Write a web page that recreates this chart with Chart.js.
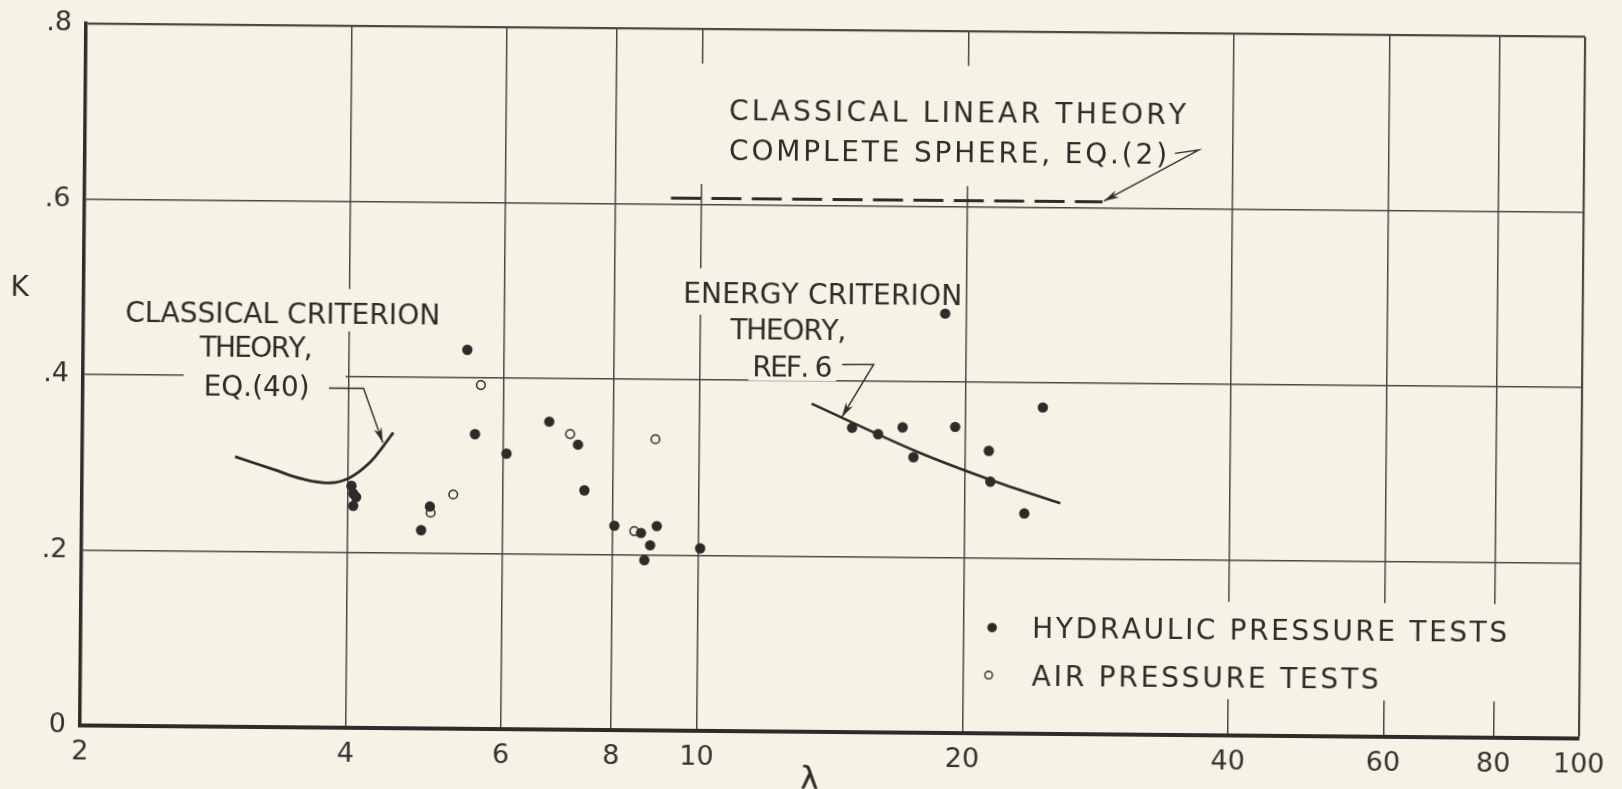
<!DOCTYPE html>
<html>
<head>
<meta charset="utf-8">
<title>K versus lambda</title>
<script src="https://cdn.jsdelivr.net/npm/chart.js@4.4.0/dist/chart.umd.min.js"></script>
<style>
  html, body { margin: 0; padding: 0; background: #f5f3e5; overflow: hidden; }
  #wrap { width: 1622px; height: 789px; }
  /* the scanned figure sits slightly crooked on the page */
  #chart { display: block; transform: rotate(0.5deg); transform-origin: 833px 380px; }
</style>
</head>
<body>
<div id="wrap"><canvas id="chart" width="1622" height="789"></canvas></div>
<script>
// axis ticks
const xTicks = [2, 4, 6, 8, 10, 20, 40, 60, 80, 100];
const yTicks = [0, 0.2, 0.4, 0.6, 0.8];

// test points (lambda, K)
const hydraulicLambda = [4.04, 4.06, 4.09, 4.06, 4.85, 4.96, 5.45, 5.57, 6.05, 6.76, 7.29, 7.42, 8.03, 8.61, 8.69, 8.82, 8.97, 10.05,
                         14.9, 15.95, 17.0, 17.5, 18.95, 19.5, 21.3, 21.4, 23.4, 24.5];
const hydraulicK = [0.276, 0.267, 0.263, 0.253, 0.226, 0.253, 0.432, 0.336, 0.314, 0.351, 0.325, 0.273, 0.233, 0.225, 0.194, 0.211, 0.233, 0.208,
                    0.347, 0.340, 0.348, 0.314, 0.478, 0.349, 0.322, 0.287, 0.251, 0.372];
const airLambda = [4.97, 5.27, 5.65, 7.14, 8.46, 8.92];
const airK = [0.246, 0.267, 0.392, 0.337, 0.227, 0.332];

// theory curves
const classicalLambda = [2.98, 3.29, 3.56, 3.82, 4.02, 4.24, 4.39, 4.50];
const classicalK = [0.308, 0.294, 0.283, 0.279, 0.285, 0.303, 0.322, 0.337];
const energyLambda = [13.4, 17.5, 21.4, 25.7];
const energyK = [0.374, 0.322, 0.289, 0.263];
const linearLambda = [9.24, 28.5];
const linearK = [0.607, 0.607];

const ink = '#2d2c2a';
const gridInk = '#4a4845';
const paper = '#f5f3e5';
const letterFont = '"DejaVu Sans", "Liberation Sans", sans-serif';
const CAP = 0.729; // cap height of DejaVu Sans, in em

// annotation text, anchored in data units (left edge, middle of capitals)
const notes = [
  { text: 'CLASSICAL CRITERION', at: [2.23, 0.4725], width: 315, clear: [10, 14, 10, 8] },
  { text: 'THEORY,', at: [2.71, 0.4335], width: 113, clear: [4, 4, 4, 4] },
  { text: 'EQ.(40)', at: [2.74, 0.389], width: 106, clear: [20, 4, 36, 4] },
  { text: 'CLASSICAL LINEAR THEORY', at: [10.73, 0.708], width: 457, clear: [40, 36, 10, 10] },
  { text: 'COMPLETE SPHERE, EQ.(2)', at: [10.74, 0.6625], width: 438, clear: [40, 10, 29, 24] },
  { text: 'ENERGY CRITERION', at: [9.56, 0.4997], width: 279, clear: [20, 14, 2, 12] },
  { text: 'THEORY,', at: [10.82, 0.459], width: 116, clear: [4, 4, 4, 4] },
  { text: 'REF. 6', at: [11.47, 0.416], width: 80, clear: [4, 4, 4, 4] },
];

const leaders = [
  [[3.80, 0.387], [4.16, 0.387], [4.38, 0.3255]],
  [[14.5, 0.419], [15.74, 0.4193], [14.5, 0.359]],
  [[34.4, 0.663], [36.6, 0.667], [28.6, 0.608]],
];

const legendItems = [
  { label: 'HYDRAULIC PRESSURE TESTS', dot: [21.57, 0.1206], at: [23.95, 0.1213], width: 475, filled: true },
  { label: 'AIR PRESSURE TESTS', dot: [21.4, 0.0664], at: [23.95, 0.0667], width: 347, filled: false },
];

function pairs(xs, ys) {
  return xs.map((x, i) => ({ x: x, y: ys[i] }));
}

function toPx(chart, p) {
  return [chart.scales.x.getPixelForValue(p[0]), chart.scales.y.getPixelForValue(p[1])];
}

// draw text char by char so it spans the wanted width
function spacedText(ctx, text, x, y, width) {
  const chars = [...text];
  const widths = chars.map(c => ctx.measureText(c).width);
  const natural = widths.reduce((a, b) => a + b, 0);
  const gap = chars.length > 1 ? (width - natural) / (chars.length - 1) : 0;
  let cx = x;
  chars.forEach((c, i) => {
    ctx.fillText(c, cx, y);
    cx += widths[i] + gap;
  });
}

function arrowHead(ctx, from, to) {
  const a = Math.atan2(to[1] - from[1], to[0] - from[0]);
  const len = 15, half = 4;
  ctx.beginPath();
  ctx.moveTo(to[0], to[1]);
  ctx.lineTo(to[0] - len * Math.cos(a) + half * Math.sin(a), to[1] - len * Math.sin(a) - half * Math.cos(a));
  ctx.lineTo(to[0] - 0.7 * len * Math.cos(a), to[1] - 0.7 * len * Math.sin(a));
  ctx.lineTo(to[0] - len * Math.cos(a) - half * Math.sin(a), to[1] - len * Math.sin(a) + half * Math.cos(a));
  ctx.closePath();
  ctx.fill();
}

const notesPlugin = {
  id: 'notes',
  beforeDraw(chart) {
    const ctx = chart.ctx;
    ctx.save();
    ctx.fillStyle = paper;
    ctx.fillRect(0, 0, chart.width, chart.height);
    ctx.restore();
  },
  // clear the grid behind the lettering, like the original drafting
  beforeDatasetsDraw(chart) {
    const ctx = chart.ctx;
    const cap = 28 * CAP;
    ctx.save();
    ctx.fillStyle = paper;
    notes.forEach(n => {
      const [x, y] = toPx(chart, n.at);
      const [l, t, r, b] = n.clear;
      ctx.fillRect(x - l, y - cap / 2 - t, n.width + l + r, cap + t + b);
    });
    const d0 = toPx(chart, legendItems[0].dot);
    const t0 = toPx(chart, legendItems[0].at);
    const t1 = toPx(chart, legendItems[1].at);
    ctx.fillRect(d0[0] - 12, t0[1] - cap / 2 - 17, t0[0] + legendItems[0].width + 9 - (d0[0] - 12), (t1[1] + cap / 2 + 12) - (t0[1] - cap / 2 - 17));
    ctx.restore();
  },
  afterDatasetsDraw(chart) {
    const ctx = chart.ctx;
    const area = chart.chartArea;
    ctx.save();
    ctx.fillStyle = ink;
    ctx.strokeStyle = ink;
    ctx.font = '28px ' + letterFont;
    ctx.textBaseline = 'alphabetic';
    ctx.textAlign = 'left';
    const cap = 28 * CAP;

    notes.forEach(n => {
      const [x, y] = toPx(chart, n.at);
      spacedText(ctx, n.text, x, y + cap / 2, n.width);
    });

    ctx.lineWidth = 1.4;
    leaders.forEach(pts => {
      const p = pts.map(q => toPx(chart, q));
      ctx.beginPath();
      ctx.moveTo(p[0][0], p[0][1]);
      for (let i = 1; i < p.length; i++) ctx.lineTo(p[i][0], p[i][1]);
      ctx.stroke();
      arrowHead(ctx, p[p.length - 2], p[p.length - 1]);
    });

    legendItems.forEach(item => {
      const [dx, dy] = toPx(chart, item.dot);
      ctx.beginPath();
      if (item.filled) {
        ctx.arc(dx, dy, 4.8, 0, Math.PI * 2);
        ctx.fill();
      } else {
        ctx.arc(dx, dy, 3.8, 0, Math.PI * 2);
        ctx.lineWidth = 1.4;
        ctx.stroke();
      }
      const [tx, ty] = toPx(chart, item.at);
      spacedText(ctx, item.label, tx, ty + cap / 2, item.width);
    });

    // axis names
    ctx.font = '28px ' + letterFont;
    ctx.textAlign = 'center';
    ctx.textBaseline = 'middle';
    ctx.fillText('K', area.left - 64, chart.scales.y.getPixelForValue(0.497));
    ctx.font = '34px ' + letterFont;
    ctx.fillText('λ', chart.scales.x.getPixelForValue(13.43), area.bottom + 50);
    ctx.restore();
  }
};

const chart = new Chart(document.getElementById('chart'), {
  type: 'scatter',
  data: {
    datasets: [
      {
        label: 'Classical criterion theory, Eq.(40)',
        data: pairs(classicalLambda, classicalK),
        showLine: true,
        tension: 0.4,
        borderColor: ink,
        borderWidth: 2.8,
        pointRadius: 0,
      },
      {
        label: 'Energy criterion theory, Ref. 6',
        data: pairs(energyLambda, energyK),
        showLine: true,
        tension: 0.3,
        borderColor: ink,
        borderWidth: 2.6,
        pointRadius: 0,
      },
      {
        label: 'Classical linear theory complete sphere, Eq.(2)',
        data: pairs(linearLambda, linearK),
        showLine: true,
        borderColor: ink,
        borderWidth: 3,
        borderDash: [30, 10.4],
        pointRadius: 0,
      },
      {
        label: 'Hydraulic pressure tests',
        data: pairs(hydraulicLambda, hydraulicK),
        backgroundColor: ink,
        borderWidth: 0,
        pointRadius: 5.2,
      },
      {
        label: 'Air pressure tests',
        data: pairs(airLambda, airK),
        backgroundColor: paper,
        borderColor: ink,
        borderWidth: 1.5,
        pointRadius: 4.3,
      },
    ],
  },
  options: {
    responsive: false,
    animation: false,
    layout: { padding: { top: 28, right: 40, bottom: 0, left: 0 } },
    plugins: {
      legend: { display: false },
      tooltip: { enabled: false },
    },
    scales: {
      x: {
        type: 'logarithmic',
        min: 2,
        max: 100,
        afterBuildTicks: axis => { axis.ticks = xTicks.map(v => ({ value: v })); },
        afterFit: axis => { axis.height = 57; },
        grid: {
          color: gridInk,
          lineWidth: ctx => (ctx.tick && ctx.tick.value === 100 ? 2.2 : 1.5),
          drawTicks: false,
        },
        border: { color: ink, width: 4 },
        ticks: {
          autoSkip: false,
          maxRotation: 0,
          padding: 11,
          color: '#333',
          font: { family: letterFont, size: 27 },
          callback: v => String(v),
        },
      },
      y: {
        min: 0,
        max: 0.8,
        afterBuildTicks: axis => { axis.ticks = yTicks.map(v => ({ value: v })); },
        afterFit: axis => { axis.width = 83; },
        grid: {
          color: gridInk,
          lineWidth: ctx => (ctx.tick && ctx.tick.value === 0.8 ? 2.2 : 1.5),
          drawTicks: false,
        },
        border: { color: ink, width: 3.5 },
        ticks: {
          padding: 14,
          color: '#333',
          font: { family: letterFont, size: 27 },
          callback: v => (v === 0 ? '0' : v.toFixed(1).replace(/^0/, '')),
        },
      },
    },
  },
  plugins: [notesPlugin],
});
</script>
</body>
</html>
